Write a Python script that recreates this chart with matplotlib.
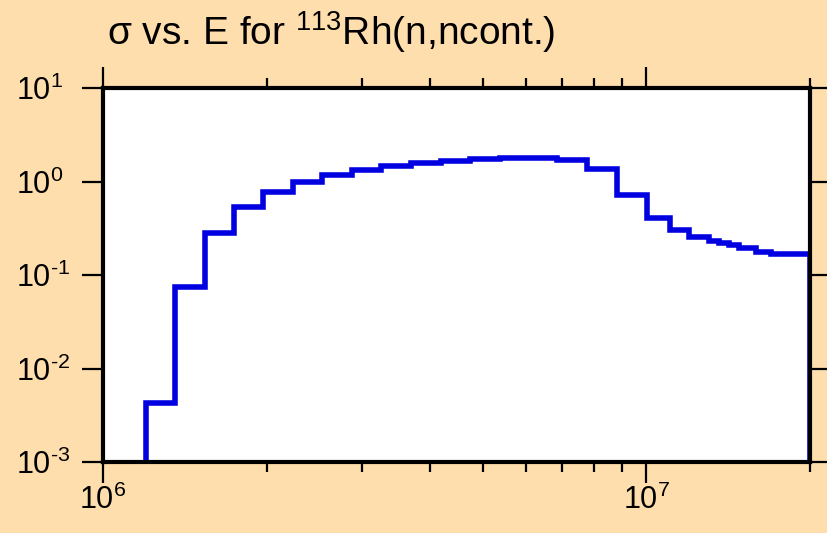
import numpy as np
import matplotlib.pyplot as plt
from matplotlib.ticker import LogLocator, NullLocator, NullFormatter, FuncFormatter

plt.rcParams['font.family'] = ['Liberation Sans', 'DejaVu Sans']
plt.rcParams['mathtext.fontset'] = 'custom'
plt.rcParams['mathtext.rm'] = 'Liberation Sans'
plt.rcParams['mathtext.it'] = 'Liberation Sans:italic'
plt.rcParams['mathtext.bf'] = 'Liberation Sans:bold'
plt.rcParams['axes.unicode_minus'] = False

# bin edges (eV) and cross section (b)
edges = [1.20e6, 1.356e6, 1.54e6, 1.743e6, 1.974e6, 2.24e6, 2.534e6, 2.872e6,
         3.253e6, 3.69e6, 4.18e6, 4.74e6, 5.37e6, 6.09e6, 6.86e6, 7.79e6,
         8.84e6, 10.03e6, 11.03e6, 12.0e6, 13.05e6, 13.62e6, 14.21e6, 14.82e6,
         15.91e6, 16.95e6, 20.0e6]
sigma = [0.0043, 0.075, 0.279, 0.538, 0.778, 0.995, 1.17, 1.33,
         1.47, 1.57, 1.66, 1.73, 1.77, 1.77, 1.70, 1.35,
         0.718, 0.41, 0.303, 0.257, 0.233, 0.221, 0.211, 0.193,
         0.177, 0.168]

bg = '#FFDEAD'


def pow10(v, pos):
    e = int(round(np.log10(v)))
    if e < 0:
        return r'$\mathdefault{10^{\text{-}%d}}$' % (-e)
    return r'$\mathdefault{10^{%d}}$' % e


fig = plt.figure(figsize=(8.27, 5.33), dpi=100, facecolor=bg)
ax = fig.add_axes([103/827, 71/533, 707/827, 374/533])
ax.set_facecolor('white')

ax.stairs(sigma, edges, baseline=1e-6, color='#0000E0', linewidth=4, zorder=2)

ax.set_xscale('log')
ax.set_yscale('log')
ax.set_xlim(1e6, 2e7)
ax.set_ylim(1e-3, 1e1)

ax.xaxis.set_major_locator(LogLocator(base=10, numticks=10))
ax.xaxis.set_minor_locator(LogLocator(base=10, subs=np.arange(2, 10), numticks=10))
ax.xaxis.set_minor_formatter(NullFormatter())
ax.xaxis.set_major_formatter(FuncFormatter(pow10))
ax.yaxis.set_major_locator(LogLocator(base=10, numticks=10))
ax.yaxis.set_minor_locator(NullLocator())
ax.yaxis.set_major_formatter(FuncFormatter(pow10))

for s in ax.spines.values():
    s.set_linewidth(3)
    s.set_zorder(3)

ax.tick_params(which='major', direction='out', length=15, width=1.6,
               top=True, right=True, labelsize=22, colors='black')
ax.tick_params(which='minor', direction='out', length=7.5, width=1.6,
               top=True, right=True)
ax.tick_params(axis='x', which='major', pad=1)
# y labels sit flush left at the figure edge
ax.tick_params(axis='y', which='major', pad=48)
for lab in ax.get_yticklabels():
    lab.set_horizontalalignment('left')

fig.text(107/827, 1 - 45/533, r'σ vs. E for $^{113}$Rh(n,ncont.)',
         fontsize=28, ha='left', va='baseline')

fig.savefig('out.png', dpi=100, facecolor=bg)
